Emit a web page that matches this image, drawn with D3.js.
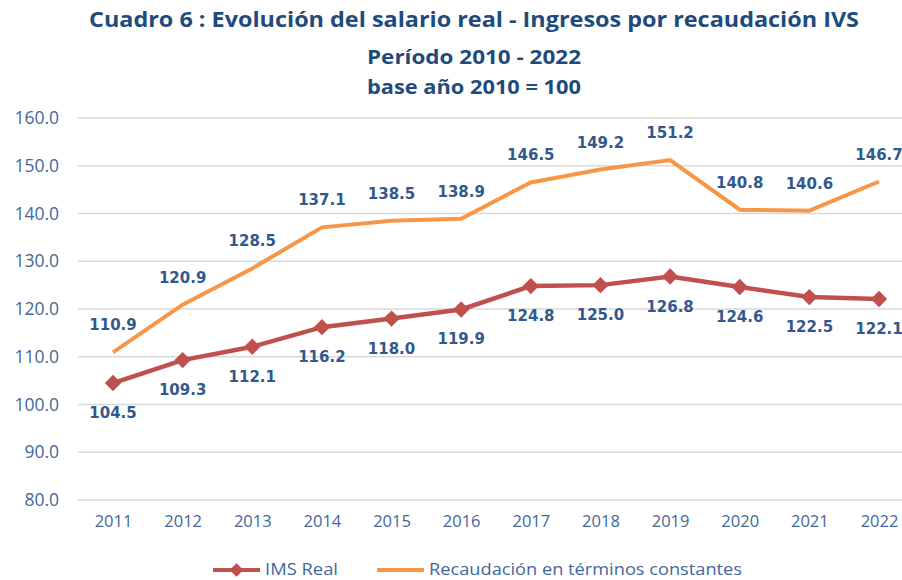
<!DOCTYPE html>
<html>
<head>
<meta charset="utf-8">
<script src="https://cdn.jsdelivr.net/npm/d3@7"></script>
<style>
  html, body { margin: 0; padding: 0; background: #fff; }
  svg { display: block; }
</style>
</head>
<body>
<div id="chart"></div>
<script>
const WIDTH = 902;
const HEIGHT = 580;

const years = ["2011", "2012", "2013", "2014", "2015", "2016", "2017", "2018", "2019", "2020", "2021", "2022"];
const imsReal = [104.5, 109.3, 112.1, 116.2, 118.0, 119.9, 124.8, 125.0, 126.8, 124.6, 122.5, 122.1];
const recaudacion = [110.9, 120.9, 128.5, 137.1, 138.5, 138.9, 146.5, 149.2, 151.2, 140.8, 140.6, 146.7];
const yTicks = [80, 90, 100, 110, 120, 130, 140, 150, 160];
const titleLines = [
  "Cuadro 6 : Evolución del salario real - Ingresos por recaudación IVS",
  "Período 2010  - 2022",
  "base año 2010 = 100"
];
const seriesNames = ["IMS Real", "Recaudación en términos constantes"];

const RED = "#c0504d";
const ORANGE = "#f79646";
const TITLE_BLUE = "#1f4b7c";
const AXIS_BLUE = "#44679a";
const LABEL_BLUE = "#33598c";

const svg = d3.select("#chart").append("svg")
  .attr("width", WIDTH)
  .attr("height", HEIGHT);

// title
const titleY = [27, 64, 94];
const titleW = [770, 214, 214];
const titleSize = [22, 20, 20];
titleLines.forEach((t, i) => {
  svg.append("text")
    .attr("x", 474)
    .attr("y", titleY[i])
    .attr("text-anchor", "middle")
    .attr("textLength", titleW[i])
    .attr("lengthAdjust", "spacingAndGlyphs")
    .style("font-family", "'Open Sans', sans-serif")
    .style("font-weight", "bold")
    .style("font-size", titleSize[i] + "px")
    .style("fill", TITLE_BLUE)
    .text(t);
});

const x = d3.scalePoint().domain(years).range([113, 879]);
const y = d3.scaleLinear().domain([80, 160]).range([500, 118]);

// gridlines
svg.append("g")
  .selectAll("line")
  .data(yTicks)
  .join("line")
  .attr("x1", 78)
  .attr("x2", WIDTH)
  .attr("y1", d => y(d))
  .attr("y2", d => y(d))
  .attr("stroke", "#d9d9d9")
  .attr("stroke-width", 1.5);

// y axis labels
const yAxis = svg.append("g")
  .attr("transform", "translate(59,0)")
  .call(d3.axisLeft(y).tickValues(yTicks).tickFormat(d3.format(".1f")).tickSize(0).tickPadding(0));
yAxis.select(".domain").remove();
yAxis.selectAll("text")
  .style("font-family", "'Open Sans', sans-serif")
  .style("font-size", "17.5px")
  .style("fill", AXIS_BLUE);

// x axis labels
const xAxis = svg.append("g")
  .attr("transform", "translate(0,515)")
  .call(d3.axisBottom(x).tickSize(0).tickPadding(0));
xAxis.select(".domain").remove();
xAxis.selectAll("text")
  .style("font-family", "'Open Sans', sans-serif")
  .style("font-size", "16.5px")
  .style("fill", AXIS_BLUE);

const line = d3.line()
  .x((d, i) => x(years[i]))
  .y(d => y(d));

// recaudación line
svg.append("path")
  .datum(recaudacion)
  .attr("d", line)
  .attr("fill", "none")
  .attr("stroke", ORANGE)
  .attr("stroke-width", 4);

// IMS line
svg.append("path")
  .datum(imsReal)
  .attr("d", line)
  .attr("fill", "none")
  .attr("stroke", RED)
  .attr("stroke-width", 4.5);

const diamond = d3.symbol().type(d3.symbolDiamond2).size(170);
svg.append("g")
  .selectAll("path")
  .data(imsReal)
  .join("path")
  .attr("d", diamond)
  .attr("transform", (d, i) => `translate(${x(years[i])},${y(d)})`)
  .attr("fill", RED);

// data labels
const labelStyle = sel => sel
  .attr("text-anchor", "middle")
  .style("font-family", "'DejaVu Sans', sans-serif")
  .style("font-weight", "bold")
  .style("font-size", "15px")
  .style("fill", LABEL_BLUE);

svg.append("g")
  .selectAll("text")
  .data(imsReal)
  .join("text")
  .attr("x", (d, i) => x(years[i]))
  .attr("y", d => y(d) + 35)
  .call(labelStyle)
  .text(d => d.toFixed(1));

svg.append("g")
  .selectAll("text")
  .data(recaudacion)
  .join("text")
  .attr("x", (d, i) => x(years[i]))
  .attr("y", d => y(d) - 22)
  .call(labelStyle)
  .text(d => d.toFixed(1));

// legend
const legend = svg.append("g");
const legendX = [213, 377];
const legendW = [73, 313];
const legendColor = [RED, ORANGE];
seriesNames.forEach((name, i) => {
  const g = legend.append("g").attr("transform", `translate(${legendX[i]},570)`);
  g.append("line")
    .attr("x1", 0).attr("x2", 47)
    .attr("stroke", legendColor[i])
    .attr("stroke-width", 4);
  if (i === 0) {
    g.append("path")
      .attr("d", d3.symbol().type(d3.symbolDiamond2).size(120))
      .attr("transform", "translate(23.5,0)")
      .attr("fill", RED);
  }
  g.append("text")
    .attr("x", 52)
    .attr("y", 5)
    .attr("textLength", legendW[i])
    .attr("lengthAdjust", "spacingAndGlyphs")
    .style("font-family", "'Open Sans', sans-serif")
    .style("font-size", "16px")
    .style("fill", AXIS_BLUE)
    .text(name);
});
</script>
</body>
</html>
